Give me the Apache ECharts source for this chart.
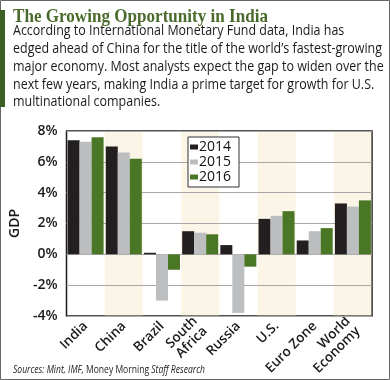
<!DOCTYPE html>
<html><head><meta charset="utf-8">
<script src="https://cdn.jsdelivr.net/npm/echarts@6/dist/echarts.min.js"></script>
<style>html,body{margin:0;padding:0;background:#fff}#c{width:390px;height:380px}</style>
</head><body><div id="c"></div>
<script>
const categories = ['India','China','Brazil','South\nAfrica','Russia','U.S.','Euro Zone','World\nEconomy'];
const years = ['2014','2015','2016'];
const gdp2014 = [7.4, 7.0, 0.1, 1.5, 0.6, 2.3, 0.9, 3.3];
const gdp2015 = [7.3, 6.6, -3.0, 1.4, -3.8, 2.5, 1.5, 3.1];
const gdp2016 = [7.6, 6.2, -1.0, 1.3, -0.8, 2.8, 1.7, 3.5];
const yMin = -4, yMax = 8, yInterval = 2;
const titleText = 'The Growing Opportunity in India';
const bodyLines = [
  'According to International Monetary Fund data, India has',
  'edged ahead of China for the title of the world\u2019s fastest-growing',
  'major economy. Most analysts expect the gap to widen over the',
  'next few years, making India a prime target for growth for U.S.',
  'multinational companies.'
];
const sourcesA = 'Sources: Mint, IMF, ';
const sourcesB = 'Money Morning';
const sourcesC = ' Staff Research';

function measure(txt, font){
  const c = document.createElement('canvas').getContext('2d');
  c.font = font; return c.measureText(txt).width;
}
const SANS = '"Open Sans", "Noto Sans", sans-serif';
const bodyFont = '14px ' + SANS;
const bodyScale = 369 / measure(bodyLines[1], bodyFont);
const titleFont = 'bold 19px "Liberation Serif", serif';
const titleScale = 255 / measure(titleText, titleFont);
const srcW = measure(sourcesA + sourcesC, 'italic 10.5px ' + SANS) + measure(sourcesB, '10.5px ' + SANS);
const srcScale = 192 / srcW;

const colors = ['#231f20', '#bcbec0', '#497726'];
const lineY = [31, 49, 67, 85, 102];

const graphic = [
  {type:'rect', shape:{x:0.5,y:0.5,width:389,height:379}, style:{fill:'none', stroke:'#666', lineWidth:1}, z:100},
  {type:'rect', shape:{x:0,y:10,width:5,height:97}, style:{fill:'#3d5e25'}, z:101},
  {type:'text', x:13, y:17, scaleX:titleScale, style:{text:titleText, font:titleFont, fill:'#4b6b2d', verticalAlign:'middle'}}
].concat(bodyLines.map((t,i)=>({type:'text', x:13, y:lineY[i], scaleX:bodyScale,
  style:{text:t, font:bodyFont, fill:'#1a1a1a', verticalAlign:'middle'}})))
.concat([{type:'text', x:13, y:370, scaleX:srcScale, style:{
  text:'{i|'+sourcesA+'}{n|'+sourcesB+'}{i|'+sourcesC+'}', verticalAlign:'middle',
  rich:{i:{fontStyle:'italic', fontSize:10.5, fontFamily:SANS, fill:'#222'}, n:{fontSize:10.5, fontFamily:SANS, fill:'#222'}}
}}]);

const chart = echarts.init(document.getElementById('c'), null, {renderer:'canvas'});
const mk = (i, data) => ({
  name: years[i], type:'bar', data, barWidth:12, barGap:'0%', z:5,
  itemStyle:{color:colors[i]}, emphasis:{disabled:true}
});
chart.setOption({
  animation:false,
  backgroundColor:'#fff',
  graphic,
  grid:{left:55, right:18, top:131, bottom:64, show:true, borderColor:'#1a1a1a', borderWidth:1.5, backgroundColor:'transparent'},
  legend:{
    orient:'vertical', left:188, top:137, data:years, z:10,
    backgroundColor:'#fff', borderColor:'#333', borderWidth:1, borderRadius:0,
    padding:[3,8,3,2], itemWidth:8, itemHeight:5, itemGap:1, icon:'rect',
    textStyle:{fontSize:14, fontFamily:SANS, color:'#111', padding:[0,0,0,-4]}
  },
  xAxis:{
    type:'category', data:categories, z:1,
    axisLine:{show:false, onZero:false}, axisTick:{show:false},
    axisLabel:{rotate:45, interval:0, margin:8, fontSize:13.5, fontWeight:600, fontFamily:SANS, color:'#1a1a1a', lineHeight:14},
    splitArea:{show:true, areaStyle:{color:['rgba(255,255,255,0)','rgba(238,222,175,0.3)']}},
    splitLine:{show:false}
  },
  yAxis:{
    type:'value', min:yMin, max:yMax, interval:yInterval, z:3,
    name:'GDP', nameLocation:'middle', nameGap:37, nameRotate:90,
    nameTextStyle:{fontSize:14, fontFamily:SANS, fontWeight:600, color:'#1a1a1a'},
    axisLine:{show:false}, axisTick:{show:false},
    axisLabel:{formatter:'{value}%', margin:9, fontSize:14, fontWeight:600, fontFamily:SANS, color:'#1a1a1a'},
    splitLine:{show:true, lineStyle:{color:'#a8a8a8', width:1}}
  },
  series:[mk(0,gdp2014), mk(1,gdp2015), mk(2,gdp2016)]
});
</script></body></html>
